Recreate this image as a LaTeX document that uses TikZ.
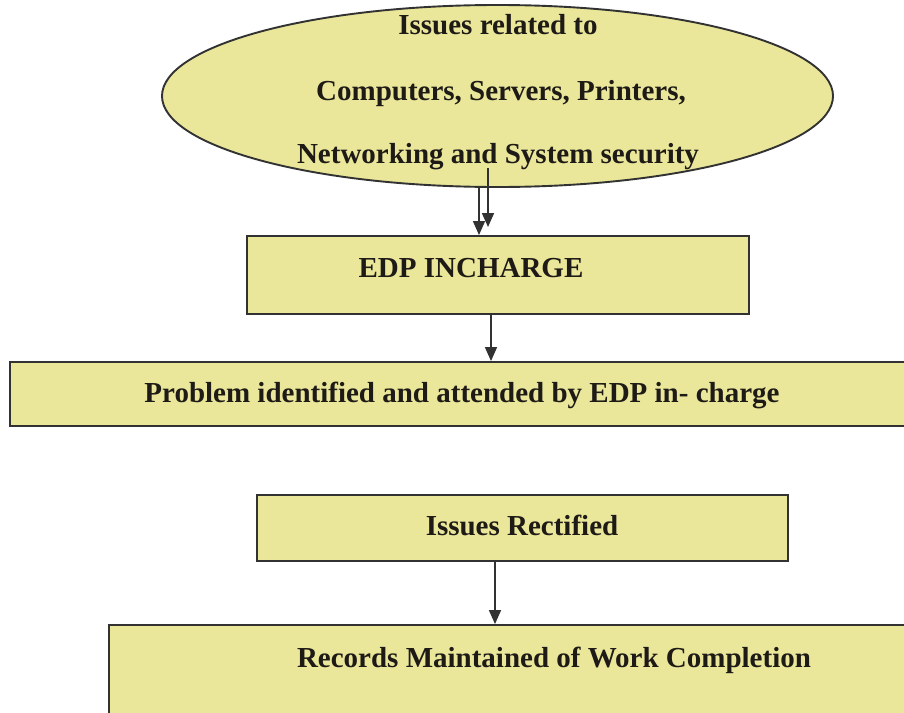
\documentclass[tikz,border=0pt]{standalone}
\usepackage{fontspec}
\setmainfont{Liberation Serif}
\usetikzlibrary{shapes.geometric,arrows.meta}
\definecolor{boxfill}{RGB}{234,231,155}
\definecolor{edgecol}{RGB}{50,50,50}
\definecolor{txtcol}{RGB}{30,26,22}
\begin{document}
\begin{tikzpicture}[x=1pt,y=-1pt,
  box/.style={draw=edgecol,line width=1.9pt,fill=boxfill,rectangle,inner sep=0pt},
  lbl/.style={font=\fontsize{29}{34}\selectfont\bfseries,text=txtcol,inner sep=0pt,anchor=base},
  arr/.style={draw=edgecol,line width=1.6pt,-{Triangle[length=14pt,width=12pt]}}]
\useasboundingbox (0,0) rectangle (904,712);
\clip (0,0) rectangle (904,712);
\fill[white] (0,0) rectangle (904,712);

% ellipse
\node[draw=edgecol,line width=1.9pt,fill=boxfill,ellipse,minimum width=671pt,minimum height=182pt,inner sep=0pt] (ell) at (497.5,96) {};
\node[lbl] (t1) at (498,34) {Issues related to};
\node[lbl] (t2) at (501,100) {Computers, Servers, Printers,};
\node[lbl] (t3) at (498,163) {Networking and System security};

% boxes
\node[box,minimum width=502pt,minimum height=78pt] (edp) at (498,275) {};
\node[lbl] (edpt) at (471,277) {EDP INCHARGE};

\node[box,minimum width=905pt,minimum height=64pt] (prob) at (462.5,394) {};
\node[lbl] (probt) at (462,402) {Problem identified and attended by EDP in- charge};

\node[box,minimum width=531pt,minimum height=66pt] (rect) at (522.5,528) {};
\node[lbl] (rectt) at (522,535) {Issues Rectified};

\node[box,minimum width=806pt,minimum height=105pt] (rec) at (512,677.5) {};
\node[lbl] (rect2) at (554,667) {Records Maintained of Work Completion};

% connectors
\coordinate (a1s) at (488,168);
\coordinate (a1e) at (488,227);
\draw[arr] (a1s) -- (a1e);
\coordinate (a2s) at (479,187);
\draw[arr] (a2s) -- (a2s |- edp.north);
\coordinate (a3s) at (491,314);
\draw[arr] (a3s) -- (a3s |- prob.north);
\coordinate (a4s) at (495,561);
\draw[arr] (a4s) -- (a4s |- rec.north);
\end{tikzpicture}
\end{document}
